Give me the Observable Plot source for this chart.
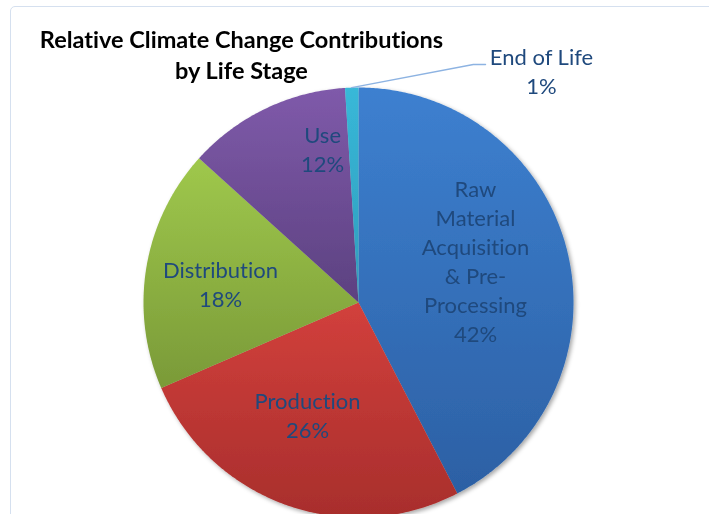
<!DOCTYPE html>
<html><head><meta charset="utf-8">
<script src="https://cdn.jsdelivr.net/npm/d3@7"></script>
<script src="https://cdn.jsdelivr.net/npm/@observablehq/plot@0.6"></script>
<style>
body{margin:0;background:#fff;}
#wrap{position:relative;width:709px;height:514px;overflow:hidden;background:#fff;}
#frame{position:absolute;left:10px;top:6px;width:760px;height:580px;border:1.5px solid #d5e0ef;border-radius:5px;box-sizing:border-box;}
#chart{position:absolute;left:0;top:0;}
svg text{font-variant-ligatures:none;font-feature-settings:"liga" 0;}
</style></head>
<body><div id="wrap"><div id="frame"></div><div id="chart"></div></div>
<script>
// ---- data ----
const stages = ["Raw Material Acquisition & Pre-Processing", "Production", "Distribution", "Use", "End of Life"];
const shares = [42.4, 26.1, 18.2, 12.3, 1.0];
const labelText = ["Raw\nMaterial\nAcquisition\n& Pre-\nProcessing", "Production", "Distribution", "Use", "End of Life"];
const title = "Relative Climate Change Contributions\nby Life Stage";
// ---- styles ----
const topColors = ["#3d80d0", "#d2403c", "#9fc84c", "#7f5aaa", "#38b8d8"];
const bottomColors = ["#2c60a4", "#a82e2c", "#7a9a38", "#5c4180", "#2f9cbc"];
// label anchors (unit radius coords, x right, y up)
const labelPos = [[0.544, 0.195], [-0.237, -0.518], [-0.642, 0.09], [-0.167, 0.718], [0.851, 1.08]];

const W = 709, H = 514, R = 215, CX = 358, CY = 302;
const total = d3.sum(shares);
let acc = 0;
const slices = shares.map((v, i) => {
  const a0 = acc / total * 2 * Math.PI; acc += v;
  const a1 = acc / total * 2 * Math.PI;
  return {i, stage: stages[i], v, a0, a1, mid: (a0 + a1) / 2};
});
function slicePoints(s) {
  const n = Math.max(2, Math.ceil((s.a1 - s.a0) / (Math.PI / 360)));
  const pts = [{x: 0, y: 0}];
  for (let k = 0; k <= n; k++) {
    const a = s.a0 + (s.a1 - s.a0) * k / n;
    pts.push({x: Math.sin(a), y: Math.cos(a)});
  }
  pts.push({x: 0, y: 0});
  return pts;
}
const labels = slices.map((s, i) => ({
  x: labelPos[i][0], y: labelPos[i][1],
  text: labelText[i] + "\n" + Math.round(s.v / total * 100) + "%"
}));
// leader for the small slice
const eol = slices[4];
const lx = labelPos[4][0], ly = labelPos[4][1];
const leader = [
  {x: Math.sin(eol.mid) * 1.0, y: Math.cos(eol.mid) * 1.0},
  {x: lx - 0.317, y: ly + 0.027},
  {x: lx - 0.26, y: ly + 0.027}
];

const marks = slices.map(s => Plot.line(slicePoints(s), {
  x: "x", y: "y", fill: `url(#grad${s.i})`, stroke: "none", curve: "linear"
}));
marks.push(Plot.line(leader, {x: "x", y: "y", stroke: "#8db3e2", strokeWidth: 1.3}));
marks.push(Plot.text(labels, {
  x: "x", y: "y", text: "text", fill: "#1f497d", fontSize: 22, fontFamily: "Lato",
  lineHeight: 1.32, lineAnchor: "middle", textAnchor: "middle"
}));
marks.push(Plot.text([title], {
  frameAnchor: "top-left", dx: 241, dy: 53, text: d => d, fill: "#000",
  fontSize: 23.5, fontWeight: "bold", fontFamily: "Lato", lineHeight: 1.33,
  lineAnchor: "middle", textAnchor: "middle"
}));

const svg = Plot.plot({
  width: W, height: H,
  marginTop: 0, marginRight: 0, marginBottom: 0, marginLeft: 0,
  x: {domain: [-CX / R, (W - CX) / R], axis: null},
  y: {domain: [-(H - CY) / R, CY / R], axis: null},
  style: {background: "transparent", overflow: "visible"},
  marks
});

const root = d3.select(svg);
const defs = root.insert("defs", ":first-child");
slices.forEach(s => {
  const g = defs.append("linearGradient").attr("id", "grad" + s.i)
    .attr("x1", 0).attr("y1", 0).attr("x2", 0).attr("y2", 1);
  g.append("stop").attr("offset", "0%").attr("stop-color", topColors[s.i]);
  g.append("stop").attr("offset", "100%").attr("stop-color", bottomColors[s.i]);
});
const f = defs.append("filter").attr("id", "shadow")
  .attr("x", "-10%").attr("y", "-10%").attr("width", "125%").attr("height", "125%");
f.append("feDropShadow").attr("dx", 2).attr("dy", 2).attr("stdDeviation", 2.2)
  .attr("flood-color", "#000").attr("flood-opacity", 0.35);
const lineGroups = root.selectAll("g[aria-label=line]").nodes().slice(0, slices.length);
if (lineGroups.length) {
  const pie = document.createElementNS("http://www.w3.org/2000/svg", "g");
  pie.setAttribute("filter", "url(#shadow)");
  lineGroups[0].parentNode.insertBefore(pie, lineGroups[0]);
  lineGroups.forEach(n => pie.appendChild(n));
}
document.getElementById("chart").appendChild(svg);
</script>
</body></html>
